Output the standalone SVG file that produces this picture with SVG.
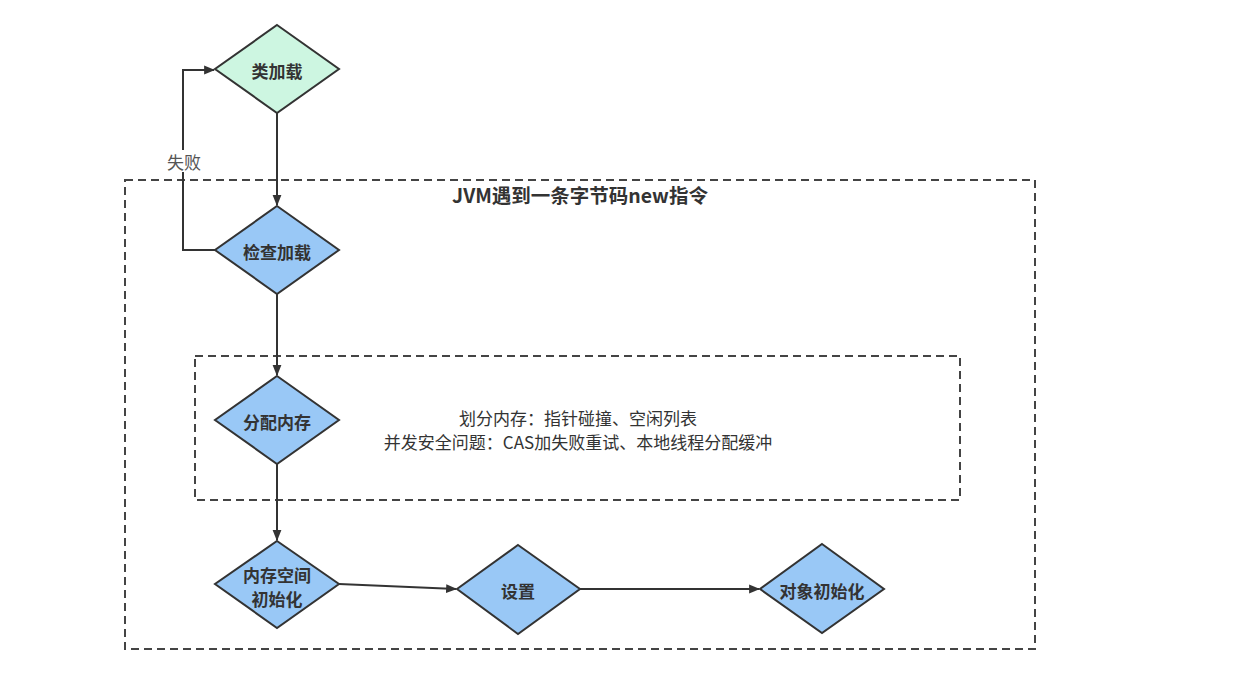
<svg xmlns="http://www.w3.org/2000/svg" width="1233" height="688" viewBox="0 0 1233 688">
<defs>
<marker id="arr" viewBox="0 0 10 10" refX="9" refY="5" markerWidth="11" markerHeight="11" markerUnits="userSpaceOnUse" orient="auto">
<path d="M0,1 L10,5 L0,9 Z" fill="#333"/>
</marker>
<style>
.box{fill:none;stroke:#444;stroke-width:2;stroke-dasharray:8 5}
.d{stroke:#333;stroke-width:2}
.blue{fill:#99c8f6}
.green{fill:#cdf6e1}
.lbl{font-family:"Noto Sans CJK SC","Liberation Sans",sans-serif;font-size:17px;font-weight:bold;fill:#333;text-anchor:middle;dominant-baseline:central}
.t{font-family:"Noto Sans CJK SC","Liberation Sans",sans-serif;font-size:17px;fill:#333;text-anchor:middle;dominant-baseline:central}
.c{fill:none;stroke:#333;stroke-width:2}
</style>
</defs>
<rect width="1233" height="688" fill="#fff"/>
<g id="outer">
<rect class="box" x="125" y="180" width="910" height="469"/>
<text class="lbl" x="580" y="194" style="font-size:19.5px">JVM遇到一条字节码new指令</text>
</g>
<g id="inner">
<rect class="box" x="195" y="356" width="765" height="144"/>
<text class="t" x="578" y="417">划分内存：指针碰撞、空闲列表</text>
<text class="t" x="578" y="441">并发安全问题：CAS加失败重试、本地线程分配缓冲</text>
</g>
<g id="connectors">
<path class="c" d="M277,113 L277,205" marker-end="url(#arr)"/>
<path class="c" d="M215,250 L183,250 L183,70 L214,70" marker-end="url(#arr)"/>
<rect x="164" y="150" width="40" height="22" fill="#fff"/>
<text class="t" x="184" y="161" style="fill:#555">失败</text>
<path class="c" d="M277,294 L277,375" marker-end="url(#arr)"/>
<path class="c" d="M277,464 L277,540" marker-end="url(#arr)"/>
<path class="c" d="M339,584 L456,589" marker-end="url(#arr)"/>
<path class="c" d="M580,589 L759,589" marker-end="url(#arr)"/>
</g>
<g id="n1">
<polygon class="d green" points="277,25 339,69 277,113 215,69"/>
<text class="lbl" x="277" y="70">类加载</text>
</g>
<g id="n2">
<polygon class="d blue" points="277,206 339,250 277,294 215,250"/>
<text class="lbl" x="277" y="251">检查加载</text>
</g>
<g id="n3">
<polygon class="d blue" points="277,376 339,420 277,464 215,420"/>
<text class="lbl" x="277" y="421">分配内存</text>
</g>
<g id="n4">
<polygon class="d blue" points="277,541 339,584 277,628 215,584"/>
<text class="lbl" x="277" y="574">内存空间</text>
<text class="lbl" x="277" y="598">初始化</text>
</g>
<g id="n5">
<polygon class="d blue" points="518,545 580,589 518,634 457,589"/>
<text class="lbl" x="518" y="590">设置</text>
</g>
<g id="n6">
<polygon class="d blue" points="822,544 884,589 822,633 760,589"/>
<text class="lbl" x="822" y="590">对象初始化</text>
</g>
</svg>
